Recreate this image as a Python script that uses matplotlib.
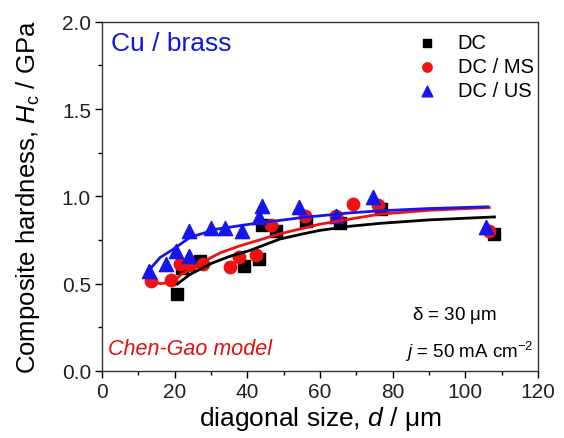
import numpy as np
import matplotlib
matplotlib.use('Agg')
import matplotlib.pyplot as plt
from matplotlib.ticker import MultipleLocator

plt.rcParams['font.family'] = ['Liberation Sans', 'DejaVu Sans']
plt.rcParams['mathtext.fontset'] = 'custom'
plt.rcParams['mathtext.rm'] = 'Liberation Sans'
plt.rcParams['mathtext.it'] = 'Liberation Sans:italic'

# measured points
dc_x = [20.7, 21.9, 26.9, 39.1, 43.2, 44.1, 48.0, 56.2, 65.4, 76.8, 108.0]
dc_y = [0.44, 0.59, 0.63, 0.60, 0.64, 0.835, 0.80, 0.86, 0.845, 0.93, 0.783]

ms_x = [13.4, 18.9, 21.4, 24.2, 27.8, 35.3, 37.7, 42.5, 46.6, 55.8, 64.5, 69.1, 75.9, 106.6]
ms_y = [0.516, 0.522, 0.61, 0.606, 0.61, 0.593, 0.65, 0.665, 0.838, 0.89, 0.89, 0.955, 0.95, 0.802]

us_x = [13.0, 17.6, 20.3, 23.8, 24.0, 30.1, 33.8, 38.6, 43.2, 44.1, 54.3, 64.5, 74.5, 105.7]
us_y = [0.57, 0.61, 0.685, 0.66, 0.80, 0.82, 0.82, 0.80, 0.88, 0.945, 0.936, 0.89, 0.994, 0.822]

# Chen-Gao model curves
dc_fit_x = [20.7, 24.0, 30.0, 35.0, 40.7, 48.9, 55.3, 60.0, 68.0, 76.4, 90.0, 108.0]
dc_fit_y = [0.497, 0.55, 0.615, 0.655, 0.69, 0.755, 0.785, 0.805, 0.828, 0.845, 0.865, 0.882]

ms_fit_x = [13.4, 16.0, 19.0, 22.0, 27.8, 32.4, 37.9, 48.9, 59.9, 68.1, 76.4, 90.0, 106.6]
ms_fit_y = [0.51, 0.50, 0.505, 0.555, 0.625, 0.675, 0.716, 0.785, 0.84, 0.869, 0.898, 0.92, 0.936]

us_fit_x = [13.6, 16.0, 19.6, 24.2, 31.5, 42.5, 48.9, 55.3, 68.1, 76.4, 90.0, 106.1]
us_fit_y = [0.593, 0.65, 0.697, 0.765, 0.812, 0.846, 0.862, 0.879, 0.905, 0.917, 0.93, 0.94]

fig = plt.figure(figsize=(5.64, 4.39), dpi=100)
ax = fig.add_axes([0.181, 0.153, 0.773, 0.795])

ax.scatter(dc_x, dc_y, marker='s', s=65, color='black', label='DC', zorder=3)
ax.scatter(ms_x, ms_y, marker='o', s=80, color='#ee1111', label='DC / MS', zorder=3)
ax.scatter(us_x, us_y, marker='^', s=105, color='#1515ee', label='DC / US', zorder=3)

ax.plot(dc_fit_x, dc_fit_y, color='black', lw=2, zorder=4)
ax.plot(ms_fit_x, ms_fit_y, color='#ee1111', lw=2, zorder=4)
ax.plot(us_fit_x, us_fit_y, color='#1515ee', lw=2, zorder=4)

ax.set_xlim(0, 120)
ax.set_ylim(0, 2.0)
ax.xaxis.set_major_locator(MultipleLocator(20))
ax.xaxis.set_minor_locator(MultipleLocator(10))
ax.yaxis.set_major_locator(MultipleLocator(0.5))
ax.yaxis.set_minor_locator(MultipleLocator(0.25))
ax.yaxis.set_major_formatter(matplotlib.ticker.FormatStrFormatter('%.1f'))
ax.tick_params(which='major', direction='out', length=5, width=1, labelsize=15, pad=3,
               labelcolor='#222222')
ax.tick_params(which='minor', direction='out', length=3, width=1)
for sp in ax.spines.values():
    sp.set_linewidth(1)
    sp.set_color('#333333')

ax.set_xlabel(r'diagonal size, $\mathit{d}$ / $\mathrm{\mu}$m', fontsize=19, labelpad=2)
ax.set_ylabel(r'Composite hardness, $\mathit{H}_\mathrm{c}$ / GPa', fontsize=18.5, labelpad=14)

ax.text(0.02, 0.94, 'Cu / brass', color='#1515dd', fontsize=19,
        transform=ax.transAxes, ha='left', va='center')
ax.text(0.013, 0.065, 'Chen-Gao model', color='#dd1111', fontsize=15.5, style='italic',
        transform=ax.transAxes, ha='left', va='center')
ax.text(0.71, 0.162, r'$\mathrm{\delta}$ = 30 $\mathrm{\mu}$m', fontsize=13.5,
        transform=ax.transAxes, ha='left', va='center')
ax.text(0.695, 0.056, r'$\mathit{j}$ = 50 mA cm$^{-2}$', fontsize=13.5,
        transform=ax.transAxes, ha='left', va='center')

ax.legend(loc='upper right', bbox_to_anchor=(1.015, 1.0), frameon=False, fontsize=14.5,
          handletextpad=0.5, labelspacing=0.25, borderaxespad=0.15, markerscale=0.75)

fig.savefig('out.png', dpi=100)
